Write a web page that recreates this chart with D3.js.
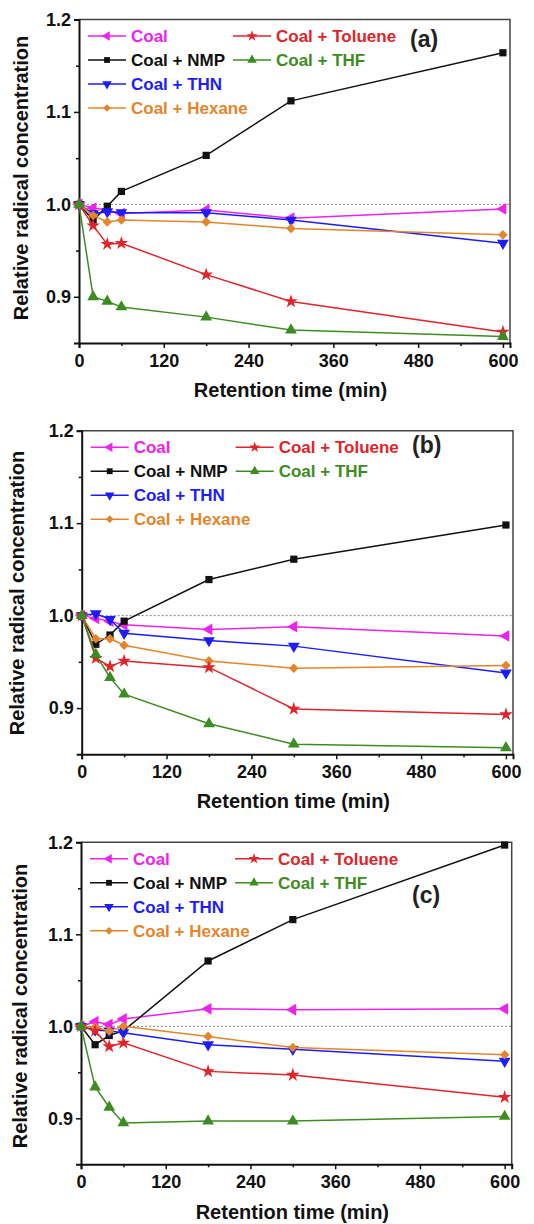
<!DOCTYPE html>
<html>
<head>
<meta charset="utf-8">
<script src="https://cdn.jsdelivr.net/npm/d3@7"></script>
<style>
  html, body { margin: 0; padding: 0; background: #fff; }
  svg { display: block; font-family: "Liberation Sans", Arial, sans-serif; font-weight: bold; }
</style>
</head>
<body>
<svg id="chart" width="534" height="1224"></svg>
<script>
// --- Data
const times = [0, 20, 40, 60, 180, 300, 600];
const seriesNames = ['Coal', 'Coal + NMP', 'Coal + THN', 'Coal + Hexane', 'Coal + Toluene', 'Coal + THF'];
const xTicks = [0, 120, 240, 360, 480, 600];
const yTicks = [0.9, 1.0, 1.1, 1.2];
const panelLabels = ['(a)', '(b)', '(c)'];

// panel (a)
const coalA    = [1.000, 0.996, 0.994, 0.990, 0.994, 0.985, 0.995];
const nmpA     = [1.000, 0.983, 0.998, 1.014, 1.053, 1.112, 1.164];
const thnA     = [1.000, 0.990, 0.992, 0.991, 0.991, 0.983, 0.958];
const hexaneA  = [1.000, 0.988, 0.981, 0.983, 0.981, 0.974, 0.967];
const tolueneA = [1.000, 0.977, 0.957, 0.958, 0.924, 0.895, 0.862];
const thfA     = [1.000, 0.900, 0.895, 0.889, 0.878, 0.864, 0.857];

// panel (b)
const coalB    = [1.000, 0.997, 0.994, 0.990, 0.985, 0.988, 0.978];
const nmpB     = [1.000, 0.969, 0.979, 0.994, 1.039, 1.061, 1.098];
const thnB     = [1.000, 1.002, 0.996, 0.981, 0.973, 0.967, 0.938];
const hexaneB  = [1.000, 0.975, 0.975, 0.968, 0.951, 0.943, 0.946];
const tolueneB = [1.000, 0.954, 0.945, 0.951, 0.944, 0.899, 0.893];
const thfB     = [1.000, 0.958, 0.933, 0.915, 0.883, 0.861, 0.857];

// panel (c)
const coalC    = [1.000, 1.005, 1.002, 1.008, 1.019, 1.018, 1.019];
const nmpC     = [1.000, 0.980, 0.990, 0.995, 1.071, 1.116, 1.197];
const thnC     = [1.000, 0.996, 0.995, 0.993, 0.980, 0.975, 0.962];
const hexaneC  = [1.000, 0.999, 0.995, 1.000, 0.989, 0.977, 0.969];
const tolueneC = [1.000, 0.995, 0.978, 0.982, 0.951, 0.947, 0.923];
const thfC     = [1.000, 0.934, 0.912, 0.895, 0.897, 0.897, 0.902];

const panelData = [
  [coalA, nmpA, thnA, hexaneA, tolueneA, thfA],
  [coalB, nmpB, thnB, hexaneB, tolueneB, thfB],
  [coalC, nmpC, thnC, hexaneC, tolueneC, thfC],
];

// --- Styles
const colors  = ['#ee22ee', '#111111', '#1c1cff', '#e5852a', '#e0242a', '#3d8c22'];
const symbols = [
  { type: d3.symbolTriangle, rot: -90, size: 60 },
  { type: d3.symbolSquare,   rot: 0,   size: 52 },
  { type: d3.symbolTriangle, rot: 180, size: 60 },
  { type: d3.symbolSquare,   rot: 45,  size: 46 },
  { type: d3.symbolStar,     rot: 0,   size: 58 },
  { type: d3.symbolTriangle, rot: 0,   size: 60 },
];
// legend layout: [column, row]
const legendSlots = [[0, 0], [0, 1], [0, 2], [0, 3], [1, 0], [1, 1]];

// panel boxes
const panels = [
  { l: 79,   r: 510,   t: 19.5,  b: 343,    xtY: 397,  ytX: 28, ytY: 178,  lab: [410, 47] },
  { l: 81.7, r: 513,   t: 430.7, b: 754.3,  xtY: 808,  ytX: 24, ytY: 593,  lab: [412, 453] },
  { l: 81,   r: 511.7, t: 842.3, b: 1164.3, xtY: 1219, ytX: 27, ytY: 1006, lab: [412, 903] },
];

const svg = d3.select('#chart');

panels.forEach((p, pi) => {
  const g = svg.append('g');
  const x = d3.scaleLinear().domain([0, 610]).range([p.l, p.r]);
  const y = d3.scaleLinear().domain([0.85, 1.2]).range([p.b, p.t]);

  // reference line at 1.0
  g.append('line')
    .attr('x1', p.l).attr('x2', p.r).attr('y1', y(1)).attr('y2', y(1))
    .attr('stroke', '#888').attr('stroke-width', 1).attr('stroke-dasharray', '2,2');

  // frame (top/right)
  g.append('path')
    .attr('d', `M${p.l},${p.t}H${p.r}V${p.b}`)
    .attr('fill', 'none').attr('stroke', '#444').attr('stroke-width', 1.5);

  // x axis
  g.append('g').attr('transform', `translate(0,${p.b})`)
    .call(d3.axisBottom(x).tickValues(xTicks).tickSize(5).tickPadding(6).tickFormat(d3.format('d')));
  g.append('g').attr('transform', `translate(0,${p.b})`)
    .call(d3.axisBottom(x).tickValues(d3.range(60, 600, 120)).tickSize(3).tickFormat(''))
    .call(s => s.select('.domain').remove());

  // y axis
  g.append('g').attr('transform', `translate(${p.l},0)`)
    .call(d3.axisLeft(y).tickValues(yTicks).tickSize(5).tickPadding(3).tickFormat(d3.format('.1f')));
  g.append('g').attr('transform', `translate(${p.l},0)`)
    .call(d3.axisLeft(y).tickValues([0.95, 1.05, 1.15]).tickSize(3).tickFormat(''))
    .call(s => s.select('.domain').remove());

  g.selectAll('.domain').attr('stroke', '#111').attr('stroke-width', 2);
  g.selectAll('.tick line').attr('stroke', '#111').attr('stroke-width', 1.5);
  g.selectAll('.tick text').attr('font-size', 18).attr('font-weight', 'bold').attr('fill', '#111')
    .attr('font-family', '"Liberation Sans", Arial, sans-serif');

  // axis titles
  g.append('text').attr('x', (p.l + p.r) / 2 - 4).attr('y', p.xtY)
    .attr('text-anchor', 'middle').attr('font-size', 20).attr('fill', '#111')
    .text('Retention time (min)');
  g.append('text').attr('transform', `translate(${p.ytX},${p.ytY}) rotate(-90)`)
    .attr('text-anchor', 'middle').attr('font-size', 20).attr('fill', '#111')
    .text('Relative radical concentration');

  // series
  const line = d3.line().x(d => x(d[0])).y(d => y(d[1]));
  panelData[pi].forEach((vals, si) => {
    const pts = times.map((t, i) => [t, vals[i]]);
    g.append('path').attr('d', line(pts))
      .attr('fill', 'none').attr('stroke', colors[si]).attr('stroke-width', 1.5);
    const sym = d3.symbol().type(symbols[si].type).size(symbols[si].size);
    g.selectAll(null).data(pts).join('path')
      .attr('d', sym)
      .attr('transform', d => `translate(${x(d[0])},${y(d[1])}) rotate(${symbols[si].rot})`)
      .attr('fill', colors[si]);
  });

  // legend
  const lx = [p.l + 9, p.l + 154];
  const ly0 = p.t + 16.5;
  seriesNames.forEach((name, si) => {
    const [c, r] = legendSlots[si];
    const x0 = lx[c], yy = ly0 + r * 24;
    g.append('line').attr('x1', x0).attr('x2', x0 + 38).attr('y1', yy).attr('y2', yy)
      .attr('stroke', colors[si]).attr('stroke-width', 1.5);
    g.append('path')
      .attr('d', d3.symbol().type(symbols[si].type).size(symbols[si].size * 0.65)())
      .attr('transform', `translate(${x0 + 19},${yy}) rotate(${symbols[si].rot})`)
      .attr('fill', colors[si]);
    g.append('text').attr('x', x0 + 43).attr('y', yy + 6)
      .attr('font-size', 17).attr('fill', colors[si]).text(name);
  });

  // panel label
  g.append('text').attr('x', p.lab[0]).attr('y', p.lab[1])
    .attr('font-size', 23).attr('fill', '#222').text(panelLabels[pi]);
});
</script>
</body>
</html>
